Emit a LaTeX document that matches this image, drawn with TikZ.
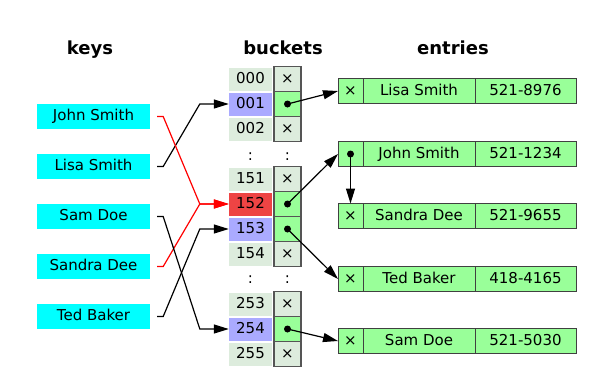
\documentclass[tikz,border=0pt]{standalone}
\usepackage{fontspec}
\setmainfont{DejaVu Sans}
\usetikzlibrary{arrows.meta, positioning}
\definecolor{keycyan}{RGB}{0,255,255}
\definecolor{slotgray}{RGB}{221,236,221}
\definecolor{slotblue}{RGB}{170,170,255}
\definecolor{slotred}{RGB}{238,68,68}
\definecolor{entrygreen}{RGB}{153,255,153}
\definecolor{framegray}{RGB}{85,85,85}

\begin{document}
\begin{tikzpicture}[
		x=1pt, y=-1pt,
		heading/.style={anchor=base, font=\bfseries\fontsize{18}{22}\selectfont},
		keybox/.style={fill=keycyan, minimum width=113pt, minimum height=25pt,
			inner sep=0pt, text height=11pt, text depth=3pt, font=\fontsize{15}{18}\selectfont},
		slot/.style={minimum width=43pt, minimum height=23pt, inner sep=0pt,
			text height=11pt, text depth=2pt, font=\fontsize{15}{18}\selectfont},
		ptrcell/.style={draw=framegray, fill=slotgray, minimum width=27pt, minimum height=25pt,
			inner sep=0pt, outer sep=0pt, font=\fontsize{15}{18}\selectfont},
		entrycell/.style={draw=black!75, fill=entrygreen, line width=1pt, minimum height=25pt,
			inner sep=0pt, outer sep=0pt, text height=11pt, text depth=3pt,
			font=\fontsize{15}{18}\selectfont},
		link/.style={-{Triangle[length=15pt, width=9pt]}, line width=1.2pt},
		keylink/.style={link, shorten <=7pt}
	]
		\useasboundingbox (0,0) rectangle (602,376);

		% column titles
		\node[heading] (t-keys) at (90,54) {keys};
		\node[heading] (t-buckets) at (283,54) {buckets};
		\node[heading] (t-entries) at (453,54) {entries};

		% keys
		\node[keybox] (john) at (93.5,116.5) {John Smith};
		\node[keybox] (lisa) at (93.5,166.5) {Lisa Smith};
		\node[keybox] (sam) at (93.5,216.5) {Sam Doe};
		\node[keybox] (sandra) at (93.5,266.5) {Sandra Dee};
		\node[keybox] (ted) at (93.5,316.5) {Ted Baker};

		% buckets
		\foreach \idx/\row/\col in {000/79/slotgray, 001/104/slotblue, 002/129/slotgray,
				151/179/slotgray, 152/204/slotred, 153/229/slotblue, 154/254/slotgray,
				253/304/slotgray, 254/329/slotblue, 255/354/slotgray}
			\node[slot, fill=\col] (b\idx) at (250.5,\row) {\idx};
		\foreach \idx/\row in {000/79, 002/129, 151/179, 154/254, 253/304, 255/354}
			\node[ptrcell] (p\idx) at (287.5,\row) {×};
		\foreach \idx/\row in {001/104, 152/204, 153/229, 254/329}
			\node[ptrcell, fill=entrygreen] (p\idx) at (287.5,\row) {};
		\draw[framegray, line width=1.6pt] (p000.north west) rectangle (p002.south east);
		\draw[framegray, line width=1.6pt] (p151.north west) rectangle (p154.south east);
		\draw[framegray, line width=1.6pt] (p253.north west) rectangle (p255.south east);
		\foreach \idx in {001, 152, 153, 254}
			\fill (p\idx.center) circle (3.5pt);
		\node[slot] (gap-b1) at (250.5,156) {:};
		\node[slot] (gap-p1) at (287.5,156) {:};
		\node[slot] (gap-b2) at (250.5,279) {:};
		\node[slot] (gap-p2) at (287.5,279) {:};

		% entries
		\foreach \who/\row/\mark/\nm/\num in {lisa/91/×/Lisa Smith/521-8976,
				john/154/{}/John Smith/521-1234, sandra/216/×/Sandra Dee/521-9655,
				ted/279/×/Ted Baker/418-4165, sam/341/×/Sam Doe/521-5030} {
			\node[entrycell, minimum width=25pt] (e\who) at (350.5,\row) {\mark};
			\node[entrycell, minimum width=112pt, right=0pt of e\who] (e\who-name) {\nm};
			\node[entrycell, minimum width=101pt, right=0pt of e\who-name] (e\who-num) {\num};
		}
		\fill (ejohn.center) circle (3.5pt);

		% hashing
		\draw[keylink] (lisa.east) -- ++(13,0) -- ([xshift=-29pt]b001.west) -- (b001.west);
		\draw[keylink, red] (john.east) -- ++(13,0) -- ([xshift=-29pt]b152.west) -- (b152.west);
		\draw[keylink, red] (sandra.east) -- ++(13,0) -- ([xshift=-29pt]b152.west) -- (b152.west);
		\draw[keylink] (ted.east) -- ++(13,0) -- ([xshift=-29pt]b153.west) -- (b153.west);
		\draw[keylink] (sam.east) -- ++(13,0) -- ([xshift=-29pt]b254.west) -- (b254.west);

		% chains
		\draw[link] (p001.center) -- (elisa.west);
		\draw[link] (p152.center) -- (ejohn.west);
		\draw[link] (p153.center) -- (eted.west);
		\draw[link] (p254.center) -- (esam.west);
		\draw[link] (ejohn.center) -- (esandra.north);
	\end{tikzpicture}
\end{document}
